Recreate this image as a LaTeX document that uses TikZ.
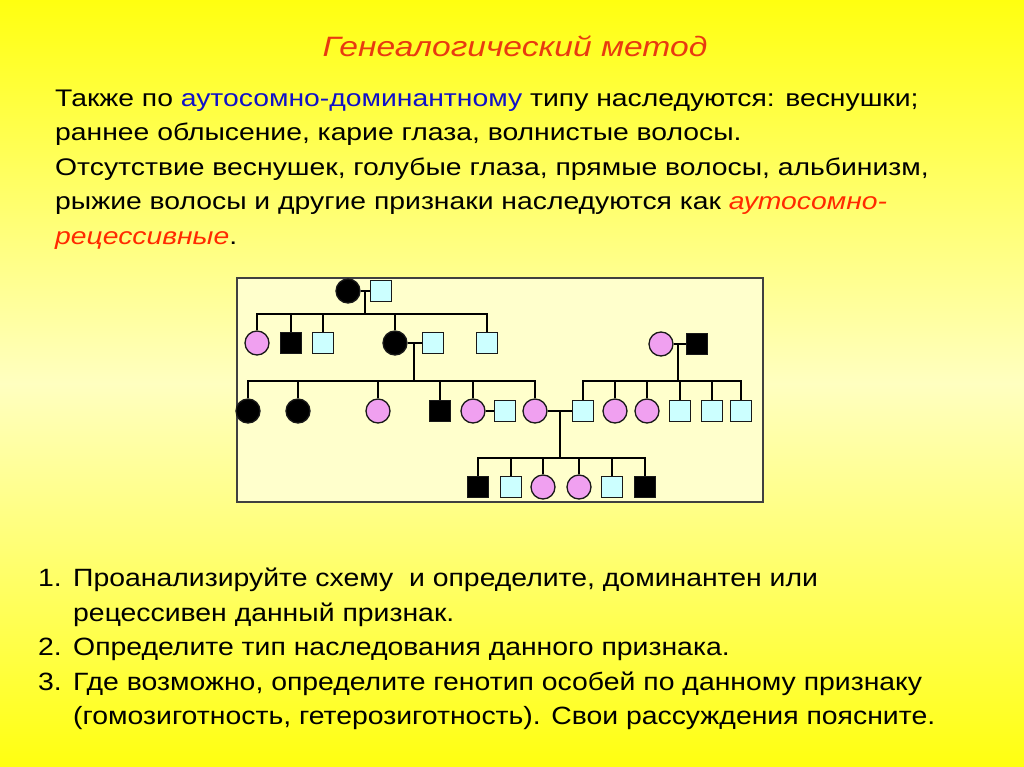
\documentclass[tikz,border=0pt]{standalone}
\usepackage{fontspec}
\setmainfont{Liberation Sans}
\newfontfamily\parafont[FakeStretch=1.18]{Liberation Sans}
\newfontfamily\listfont[FakeStretch=1.135]{Liberation Sans}
\newfontfamily\titlefont[FakeStretch=1.2]{Liberation Sans}
\definecolor{bgyel}{HTML}{FFFF10}
\definecolor{bgpale}{HTML}{FFFFC0}
\definecolor{boxfill}{HTML}{FFFFCC}
\definecolor{pinkf}{HTML}{F0A0F0}
\definecolor{cyanm}{HTML}{CCFFFF}
\definecolor{titlered}{HTML}{E83A10}
\definecolor{txtred}{HTML}{FF2A00}
\definecolor{txtblue}{HTML}{1010C8}
\tikzset{
  ind/.style={draw=black!90, line width=1.3pt, inner sep=0pt},
  fa/.style={ind, circle, minimum size=24pt, fill=black},
  fn/.style={ind, circle, minimum size=24pt, fill=pinkf},
  ma/.style={ind, rectangle, minimum size=21pt, fill=black},
  mn/.style={ind, rectangle, minimum size=21pt, fill=cyanm},
  lnk/.style={line width=1.5pt, black},
  txt/.style={anchor=base west, inner sep=0pt, font=\parafont\fontsize{24}{29}\selectfont},
  lst/.style={anchor=base west, inner sep=0pt, font=\listfont\fontsize{25}{30}\selectfont}
}
\begin{document}
\begin{tikzpicture}[x=1pt,y=-1pt]
\useasboundingbox (0,0) rectangle (1024,767);
\shade[top color=bgyel, bottom color=bgyel, middle color=bgpale] (0,0) rectangle (1024,767);

% title
\node[inner sep=0pt, anchor=base, text=titlered, font=\titlefont\fontsize{28}{33}\selectfont\itshape] (title) at (515,56.5) {Генеалогический метод};

% paragraph
\node[txt] (p1) at (55,106.5) {Также по \textcolor{txtblue}{аутосомно-доминантному} типу наследуются: веснушки;};
\node[txt] (p2) at (55,141) {раннее облысение, карие глаза, волнистые волосы.};
\node[txt] (p3) at (55,175.5) {Отсутствие веснушек, голубые глаза, прямые волосы, альбинизм,};
\node[txt] (p4) at (55,210) {рыжие волосы и другие признаки наследуются как \textcolor{txtred}{\itshape аутосомно-}};
\node[txt] (p5) at (55,244.5) {\textcolor{txtred}{\itshape рецессивные}.};

% pedigree box
\draw[draw=black!75, line width=1.3pt, fill=boxfill] (237,278) rectangle (763,502);

% generation I
\node[fa] (c1) at (348,291) {};
\node[mn] (s1) at (381,291) {};
\coordinate (m1) at (365,291);
\coordinate (b1) at (365,314);
% generation II
\node[fn] (f21) at (257,343) {};
\node[ma] (m22) at (291,343) {};
\node[mn] (m23) at (323,343) {};
\node[fa] (f24) at (395,343) {};
\node[mn] (m25) at (433,343) {};
\node[mn] (m26) at (487,343) {};
\coordinate (m2) at (414,343);
\coordinate (b2) at (414,381);
\node[fn] (f27) at (661,344) {};
\node[ma] (m28) at (697,344) {};
\coordinate (m3) at (678,344);
\coordinate (b3) at (678,381);
% generation III
\node[fa] (f31) at (248,411) {};
\node[fa] (f32) at (298,411) {};
\node[fn] (f33) at (378,411) {};
\node[ma] (m34) at (440,411) {};
\node[fn] (f35) at (473,411) {};
\node[mn] (m36) at (505,411) {};
\node[fn] (f37) at (535,411) {};
\node[mn] (m38) at (583,411) {};
\node[fn] (f39) at (615,411) {};
\node[fn] (f310) at (647,411) {};
\node[mn] (m311) at (680,411) {};
\node[mn] (m312) at (712,411) {};
\node[mn] (m313) at (741,411) {};
\coordinate (m4) at (560,411);
\coordinate (b4) at (560,458);
% generation IV
\node[ma] (m41) at (478,487) {};
\node[mn] (m42) at (511,487) {};
\node[fn] (f43) at (543,487) {};
\node[fn] (f44) at (579,487) {};
\node[mn] (m45) at (612,487) {};
\node[ma] (m46) at (645,487) {};

% links
\draw[lnk] (c1) -- (s1);
\draw[lnk] (m1) -- (b1);
\foreach \k in {f21,m22,m23,f24,m26} \draw[lnk] (\k.north) |- (b1);
\draw[lnk] (f24) -- (m25);
\draw[lnk] (m2) -- (b2);
\foreach \k in {f31,f32,f33,m34,f35,f37} \draw[lnk] (\k.north) |- (b2);
\draw[lnk] (f27) -- (m28);
\draw[lnk] (m3) -- (b3);
\foreach \k in {m38,f39,f310,m311,m312,m313} \draw[lnk] (\k.north) |- (b3);
\draw[lnk] (f35) -- (m36);
\draw[lnk] (f37) -- (m38);
\draw[lnk] (m4) -- (b4);
\foreach \k in {m41,m42,f43,f44,m45,m46} \draw[lnk] (\k.north) |- (b4);

% questions
\node[lst] (n1) at (38,586.7) {1.};
\node[lst] (q1a) at (73,586.7) {Проанализируйте схему\ \ и определите, доминантен или};
\node[lst] (q1b) at (73,621.3) {рецессивен данный признак.};
\node[lst] (n2) at (38,655.7) {2.};
\node[lst] (q2) at (73,655.7) {Определите тип наследования данного признака.};
\node[lst] (n3) at (38,690) {3.};
\node[lst] (q3a) at (73,690) {Где возможно, определите генотип особей по данному признаку};
\node[lst] (q3b) at (73,724.4) {(гомозиготность, гетерозиготность). Свои рассуждения поясните.};
\end{tikzpicture}
\end{document}
